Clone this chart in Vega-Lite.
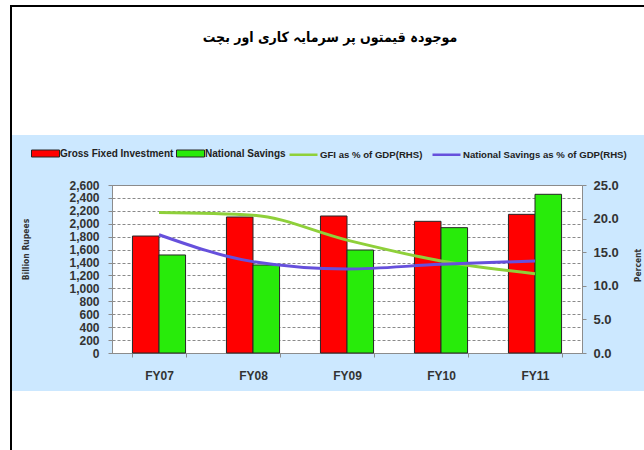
{
  "$schema": "https://vega.github.io/schema/vega-lite/v6.json",
  "background": "#cce8ff",
  "padding": 0,
  "data": {"values": []},
  "datasets": {
    "bars": [
      {"year": "FY07", "series": "Gross Fixed Investment", "value": 1810},
      {"year": "FY07", "series": "National Savings", "value": 1517},
      {"year": "FY08", "series": "Gross Fixed Investment", "value": 2105},
      {"year": "FY08", "series": "National Savings", "value": 1362},
      {"year": "FY09", "series": "Gross Fixed Investment", "value": 2120},
      {"year": "FY09", "series": "National Savings", "value": 1594},
      {"year": "FY10", "series": "Gross Fixed Investment", "value": 2038},
      {"year": "FY10", "series": "National Savings", "value": 1940},
      {"year": "FY11", "series": "Gross Fixed Investment", "value": 2146},
      {"year": "FY11", "series": "National Savings", "value": 2456}
    ],
    "lines": [
      {"year": "FY07", "series": "GFI  as % of GDP(RHS)", "pct": 20.9},
      {"year": "FY08", "series": "GFI  as % of GDP(RHS)", "pct": 20.5},
      {"year": "FY09", "series": "GFI  as % of GDP(RHS)", "pct": 16.8},
      {"year": "FY10", "series": "GFI  as % of GDP(RHS)", "pct": 13.7},
      {"year": "FY11", "series": "GFI  as % of GDP(RHS)", "pct": 11.8},
      {"year": "FY07", "series": "National Savings as % of GDP(RHS)", "pct": 17.6},
      {"year": "FY08", "series": "National Savings as % of GDP(RHS)", "pct": 13.6},
      {"year": "FY09", "series": "National Savings as % of GDP(RHS)", "pct": 12.5},
      {"year": "FY10", "series": "National Savings as % of GDP(RHS)", "pct": 13.2},
      {"year": "FY11", "series": "National Savings as % of GDP(RHS)", "pct": 13.7}
    ],
    "heading": [
      {"t": "موجودہ قیمتوں پر سرمایہ کاری اور بچت"}
    ]
  },
  "columns": 4,
  "spacing": 0,
  "bounds": "flush",
  "align": "each",
  "concat": [
    {"width": 10, "height": 5, "view": {"fill": "#ffffff"}, "mark": "point"},
    {"width": 2, "height": 5, "view": {"fill": "#ffffff"}, "mark": "point"},
    {"width": 100, "height": 5, "view": {"fill": "#ffffff"}, "mark": "point"},
    {"width": 532, "height": 5, "view": {"fill": "#ffffff"}, "mark": "point"},

    {"width": 10, "height": 2, "view": {"fill": "#ffffff"}, "mark": "point"},
    {"width": 2, "height": 2, "view": {"fill": "#000000"}, "mark": "point"},
    {"width": 100, "height": 2, "view": {"fill": "#000000"}, "mark": "point"},
    {"width": 532, "height": 2, "view": {"fill": "#000000"}, "mark": "point"},

    {"width": 10, "height": 62, "view": {"fill": "#ffffff"}, "mark": "point"},
    {"width": 2, "height": 62, "view": {"fill": "#000000"}, "mark": "point"},
    {"width": 100, "height": 62, "view": {"fill": "#ffffff"}, "mark": "point"},
    {
      "width": 532, "height": 62, "view": {"fill": "#ffffff"},
      "data": {"name": "heading"},
      "mark": {"type": "text", "font": "DejaVu Sans Condensed, DejaVu Sans", "fontSize": 14, "fontWeight": "bold", "color": "#000000", "align": "center", "baseline": "middle", "dx": -48},
      "encoding": {"text": {"field": "t", "type": "nominal"}}
    },

    {"width": 10, "height": 66, "view": {"fill": "#ffffff"}, "mark": "point"},
    {"width": 2, "height": 66, "view": {"fill": "#000000"}, "mark": "point"},
    {"width": 100, "height": 66, "view": {"fill": "#ffffff"}, "mark": "point"},
    {"width": 532, "height": 66, "view": {"fill": "#ffffff"}, "mark": "point"},

    {"width": 10, "height": 50, "view": {"fill": "#ffffff"}, "mark": "point"},
    {"width": 2, "height": 50, "view": {"fill": "#000000"}, "mark": "point"},
    {"width": 100, "height": 50, "mark": "point"},
    {"width": 532, "height": 50, "mark": "point"},

    {"width": 10, "height": 168, "view": {"fill": "#ffffff"}, "mark": "point"},
    {"width": 2, "height": 168, "view": {"fill": "#000000"}, "mark": "point"},
    {"width": 100, "height": 168, "mark": "point"},
    {
      "width": 470,
      "height": 168,
      "view": {"fill": "#ffffff", "stroke": "#8c8c8c"},
      "layer": [
        {
          "data": {"name": "bars"},
          "mark": {"type": "bar", "stroke": "#262626", "strokeWidth": 1},
          "encoding": {
            "x": {
              "field": "year", "type": "nominal", "title": null,
              "scale": {"paddingInner": 0.435, "paddingOuter": 0.2175},
              "axis": {
                "labelAngle": 0, "tickBand": "extent", "tickSize": 4, "labelPadding": 13,
                "labelFont": "Liberation Sans", "labelFontSize": 12, "labelFontWeight": "bold", "labelColor": "#333333",
                "domainColor": "#8c8c8c", "tickColor": "#8c8c8c", "grid": false
              }
            },
            "xOffset": {
              "field": "series", "type": "nominal",
              "scale": {"domain": ["Gross Fixed Investment", "National Savings"], "paddingInner": 0, "paddingOuter": 0}
            },
            "y": {
              "field": "value", "type": "quantitative",
              "scale": {"domain": [0, 2600], "nice": false},
              "axis": {
                "title": "Billion Rupees",
                "values": [0, 200, 400, 600, 800, 1000, 1200, 1400, 1600, 1800, 2000, 2200, 2400, 2600],
                "format": ",d",
                "grid": true, "gridDash": [3, 2], "gridColor": "#8a8a8a", "gridWidth": 1,
                "tickSize": 4, "labelPadding": 9, "labelOverlap": false, "labelFlush": false, "labelBound": false,
                "labelFont": "Liberation Sans", "labelFontSize": 12, "labelFontWeight": "bold", "labelColor": "#333333",
                "domainColor": "#8c8c8c", "tickColor": "#8c8c8c",
                "titleFont": "Liberation Sans Narrow, DejaVu Sans Condensed, sans-serif", "titleFontSize": 8.5, "titleFontWeight": "bold", "titleColor": "#333333",
                "titleAngle": 270, "titleX": -87, "titleY": 64, "titleAlign": "center", "titleBaseline": "middle"
              }
            },
            "fill": {
              "field": "series", "type": "nominal",
              "scale": {
                "domain": ["Gross Fixed Investment", "National Savings"],
                "range": ["#ff0000", "#28eb0a"]
              },
              "legend": {
                "orient": "none", "legendX": 31, "legendY": 139,
                "direction": "horizontal", "columns": 2, "title": null,
                "symbolType": "M-1,-0.25H1V0.25H-1Z", "symbolSize": 784,
                "symbolStrokeColor": "#262626", "symbolStrokeWidth": 1,
                "padding": 0, "labelOffset": 0, "columnPadding": 0, "labelLimit": 300,
                "labelFont": "Liberation Sans", "labelFontSize": 10, "labelFontWeight": "bold", "labelColor": "#222222"
              }
            }
          }
        },
        {
          "data": {"name": "lines"},
          "mark": {"type": "line", "strokeWidth": 3, "interpolate": "monotone"},
          "encoding": {
            "x": {"field": "year", "type": "nominal", "title": null},
            "y": {
              "field": "pct", "type": "quantitative",
              "scale": {"domain": [0, 25], "nice": false},
              "axis": {
                "orient": "right", "title": "Percent",
                "values": [0, 5, 10, 15, 20, 25], "format": ".1f", "grid": false,
                "tickSize": 4, "labelPadding": 7, "labelOverlap": false, "labelFlush": false, "labelBound": false,
                "labelFont": "Liberation Sans", "labelFontSize": 13, "labelFontWeight": "bold", "labelColor": "#333333",
                "domainColor": "#8c8c8c", "tickColor": "#8c8c8c",
                "titleFont": "Liberation Sans Narrow, DejaVu Sans Condensed, sans-serif", "titleFontSize": 8.5, "titleFontWeight": "bold", "titleColor": "#333333",
                "titleAngle": 270, "titleX": 55, "titleY": 80, "titleAlign": "center", "titleBaseline": "middle"
              }
            },
            "stroke": {
              "field": "series", "type": "nominal",
              "scale": {
                "domain": ["GFI  as % of GDP(RHS)", "National Savings as % of GDP(RHS)"],
                "range": ["#8fd03a", "#6650dc"]
              },
              "legend": {
                "orient": "none", "legendX": 288, "legendY": 139,
                "direction": "horizontal", "columns": 2, "title": null,
                "symbolType": "M-1,0H1", "symbolSize": 784, "symbolStrokeWidth": 2.5,
                "padding": 0, "labelOffset": 1, "columnPadding": 1, "labelLimit": 300,
                "labelFont": "Liberation Sans", "labelFontSize": 9.6, "labelFontWeight": "bold", "labelColor": "#222222"
              }
            }
          }
        }
      ],
      "resolve": {"scale": {"y": "independent"}}
    },

    {"width": 10, "height": 38, "view": {"fill": "#ffffff"}, "mark": "point"},
    {"width": 2, "height": 38, "view": {"fill": "#000000"}, "mark": "point"},
    {"width": 100, "height": 38, "mark": "point"},
    {"width": 532, "height": 38, "mark": "point"},

    {"width": 10, "height": 59, "view": {"fill": "#ffffff"}, "mark": "point"},
    {"width": 2, "height": 59, "view": {"fill": "#000000"}, "mark": "point"},
    {"width": 100, "height": 59, "view": {"fill": "#ffffff"}, "mark": "point"},
    {"width": 532, "height": 59, "view": {"fill": "#ffffff"}, "mark": "point"}
  ],
  "config": {
    "view": {"stroke": null},
    "font": "Liberation Sans"
  }
}
